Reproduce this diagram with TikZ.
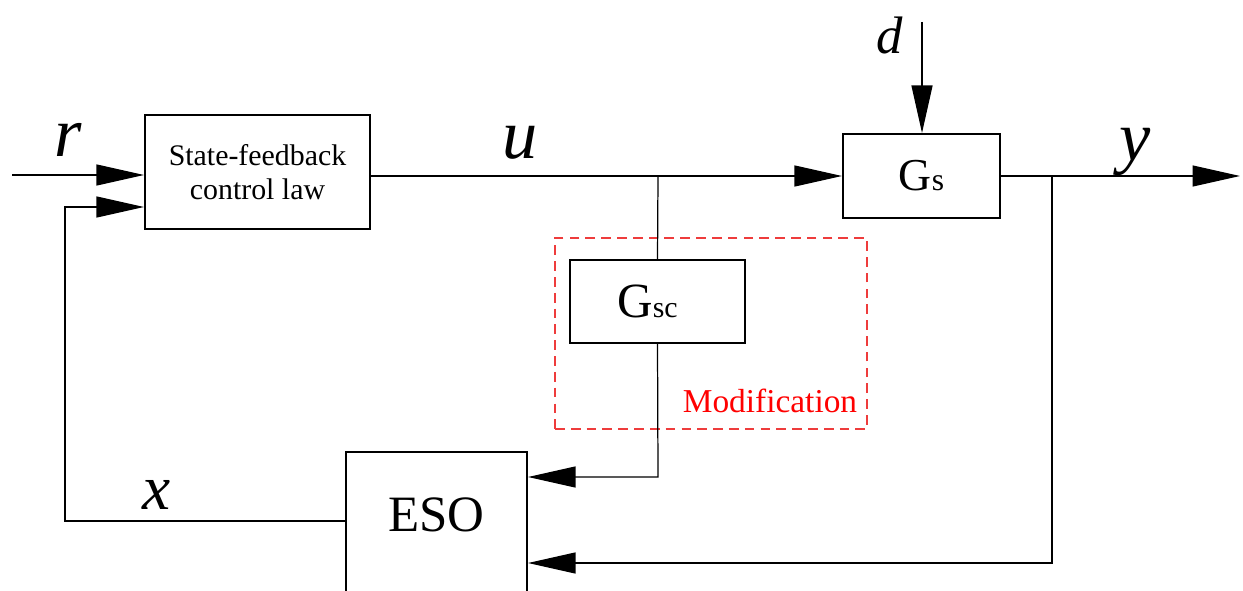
\documentclass[tikz,border=0pt]{standalone}
\usepackage{fontspec}
\setmainfont{Liberation Serif}
\newfontfamily\tmsfont{Liberation Serif}
\usetikzlibrary{arrows.meta,positioning}
\definecolor{modred}{RGB}{238,60,60}

\begin{document}
\begin{tikzpicture}[
  x=0.02cm, y=-0.02cm,
  line width=0.7pt,
  font=\tmsfont,
  >={Triangle[length=0.95cm,width=0.42cm]},
  block/.style={draw, line width=1.2pt, inner sep=0pt, align=center},
  sig/.style={font=\tmsfont\fontsize{40}{40}\selectfont\itshape},
  modbox/.style={draw=modred, dash pattern=on 5.5pt off 3.5pt, line width=0.7pt}
]
\useasboundingbox (0,0) rectangle (1243,591);

% blocks
\node[block, minimum width=4.5cm, minimum height=2.28cm, font=\tmsfont\fontsize{17}{19}\selectfont] (sf) at (257.5,172) {State-feedback\\control law};
\node[block, minimum width=3.14cm, minimum height=1.68cm] (gs) at (921.5,176) {\fontsize{26}{26}\selectfont G\fontsize{18}{18}\selectfont s};
\node[block, minimum width=3.5cm, minimum height=1.66cm] (gsc) at (657.5,301.5) {\hspace*{-0.4cm}\fontsize{28}{28}\selectfont G\fontsize{17}{17}\selectfont sc};
\node[block, minimum width=3.62cm, minimum height=2.96cm] (eso) at (436.5,526) {};
\node[font=\tmsfont\fontsize{29}{29}\selectfont] (esotxt) at (436.5,515) {ESO};
\node[modbox, minimum width=6.24cm, minimum height=3.82cm] (mod) at (711,333.5) {};
\node[text=red, font=\tmsfont\fontsize{19}{19}\selectfont] (modtxt) at (770,401) {Modification};

% signal labels
\node[sig] (r) at (68,140) {r};
\node[sig] (u) at (520,143) {u};
\node[sig, font=\tmsfont\fontsize{30}{30}\selectfont\itshape] (d) at (890,35) {d};
\node[sig] (y) at (1135,152) {y};
\node[sig, font=\tmsfont\fontsize{36}{36}\selectfont\itshape] (x) at (157,495) {x};

% branch points
\coordinate (rin) at (12,175);
\coordinate (ju) at (658,176);
\coordinate (jy) at (1052,176);
\coordinate (yout) at (1240,176);
\coordinate (dtop) at (922,22);
\coordinate (jb) at (1052,563);
\coordinate (jc) at (658,477);
\coordinate (jx) at (65,521);
\coordinate (jf) at (65,207);

% connectors
\draw[->] (rin) -- (rin -| sf.west);
\draw (sf.east |- ju) -- (ju);
\draw[->] (ju) -- (ju -| gs.west);
\draw[->] (dtop) -- (dtop |- gs.north);
\draw (gs.east |- jy) -- (jy);
\draw[->] (jy) -- (yout);
\draw[->] (jy) -- (jb) -- (jb -| eso.east);
\draw (ju) -- (gsc.north);
\draw[->] (gsc.south) -- (jc) -- (jc -| eso.east);
\draw[->] (eso.west |- jx) -- (jx) -- (jf) -- (jf -| sf.west);
\end{tikzpicture}
\end{document}
